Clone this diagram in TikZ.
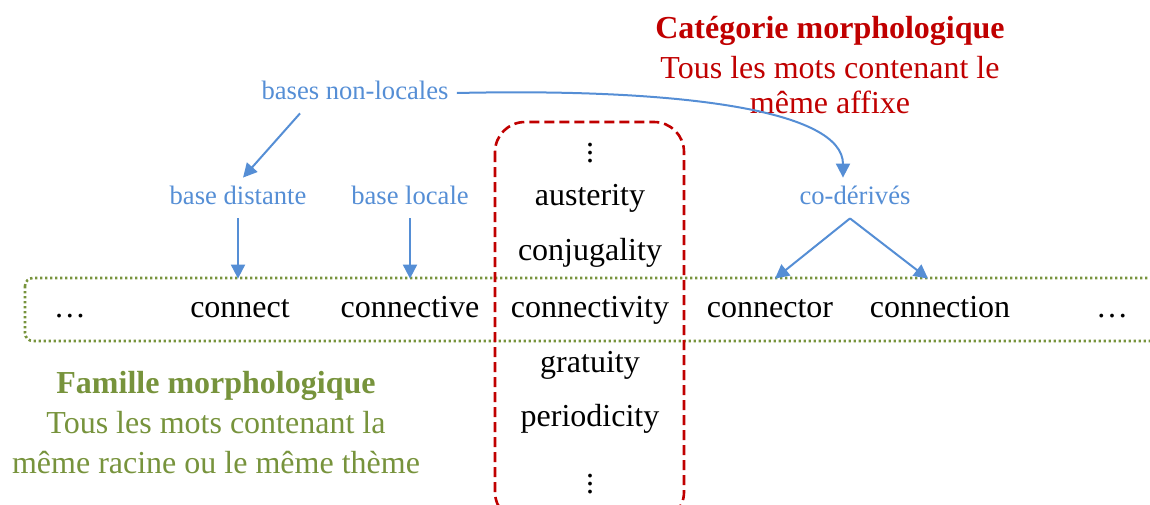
\documentclass[tikz,border=0pt]{standalone}
\usepackage{fontspec}
\setmainfont{Liberation Serif}
\usetikzlibrary{arrows.meta,positioning,calc}
\definecolor{catred}{HTML}{C00000}
\definecolor{famgreen}{HTML}{77933C}
\definecolor{relblue}{HTML}{558ED5}

\begin{document}
\begin{tikzpicture}[x=0.5pt, y=-0.5pt,
  word/.style={font=\fontsize{16}{18}\selectfont, inner sep=0pt,
    text height=11pt, text depth=3.5pt},
  rowword/.style={word, minimum height=31pt},
  rel/.style={font=\fontsize{13.3}{15}\selectfont, text=relblue,
    inner sep=4pt, text height=9pt, text depth=3pt},
  arr/.style={draw=relblue, line width=1pt,
    -{Triangle[length=7pt,width=7pt]}}]
\useasboundingbox (0,0) rectangle (1150,504);
% the two groupings, cut by the page edge
\begin{scope}
\clip (0,0) rectangle (1150,504);
\draw[famgreen, line width=1.3pt, dash pattern=on 1.2pt off 1.3pt,
  rounded corners=4pt] (25,278) rectangle (1180,341);
\draw[catred, line width=1.3pt, dash pattern=on 5pt off 2.5pt,
  rounded corners=15pt] (495,122) rectangle (684,522);
\end{scope}
% family row
\node[rowword] (dl) at (70,310) {…};
\node[rowword] (con) at (240,310) {connect};
\node[rowword] (cve) at (410,310) {connective};
\node[rowword] (cvy) at (590,310) {connectivity};
\node[rowword] (cor) at (770,310) {connector};
\node[rowword] (cion) at (940,310) {connection};
\node[rowword] (dr) at (1112,310) {…};
% category column
\node[word] (vtop) at (590,155) {\vdots};
\node[word] (aus) at (590,198) {austerity};
\node[word] (conj) at (590,253) {conjugality};
\node[word] (grat) at (590,365) {gratuity};
\node[word] (per) at (590,419) {periodicity};
\node[word] (vbot) at (590,486) {\vdots};
% captions
\node[font=\fontsize{16}{17.5}\selectfont, text=catred, align=center]
  (cat) at (830,65) {\textbf{Catégorie morphologique}\\[2.5pt]
  Tous les mots contenant le\\ même affixe};
\node[font=\fontsize{16}{20}\selectfont, text=famgreen, align=center]
  (fam) at (216,423) {\textbf{Famille morphologique}\\
  Tous les mots contenant la\\ même racine ou le même thème};
% bases
\node[rel] (bnl) at (355,93) {bases non-locales};
\node[rel] (bd) at (238,198) {base distante};
\node[rel] (bl) at (410,198) {base locale};
\node[rel] (cod) at (855,198) {co-dérivés};
\coordinate (split) at ($(cod.south)+(-5,0)$);
\draw[arr] ($(bnl.south)+(-55,0)$) -- ($(bd.north)+(5,0)$);
\draw[arr] (bd.south) -- (bd.south |- con.north);
\draw[arr] (bl.south) -- (bl.south |- cve.north);
\draw[arr] (bnl.east) .. controls (680,88) and (843,110)
  .. ($(cod.north)+(-12,0)$);
\draw[arr] (split) -- ($(cor.north)+(5,0)$);
\draw[arr] (split) -- ($(cion.north)+(-12,0)$);
\end{tikzpicture}
\end{document}
